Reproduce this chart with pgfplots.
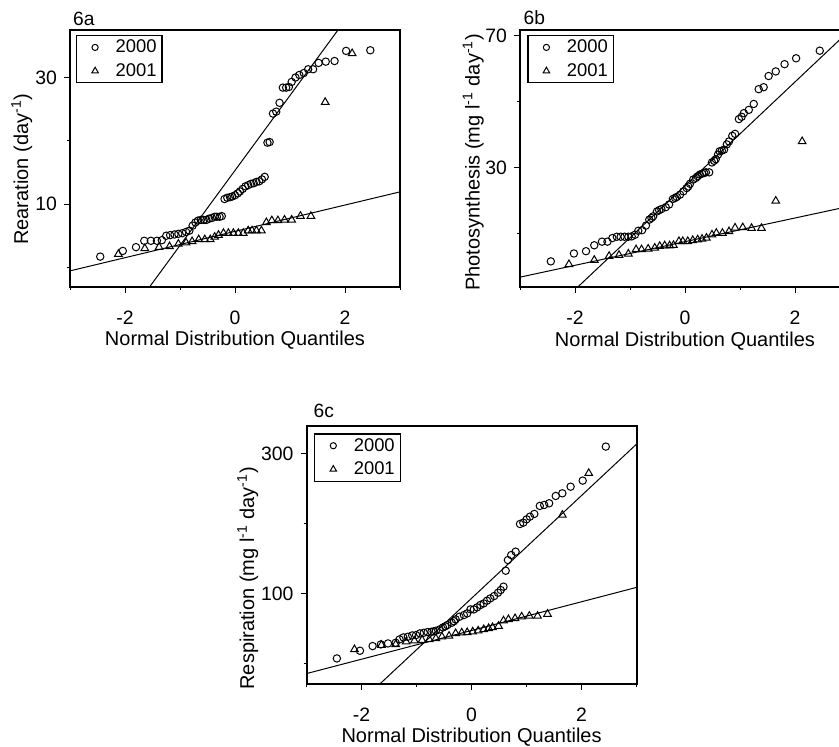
\documentclass[border=0pt]{standalone}
\usepackage{fontspec}
\setmainfont{Liberation Sans}
\usepackage{pgfplots}
\pgfplotsset{compat=1.18}

% shared look of the three Q-Q panels
\pgfplotsset{
  qq/.style={
    scale only axis, width=165pt, height=128.5pt,
    anchor=north west,
    xmin=-3, xmax=3,
    xtick={-2,0,2}, minor xtick={-3,-1,1,3},
    xtick pos=left, ytick pos=left, tick align=outside,
    major tick length=3pt, minor tick length=1.5pt,
    tick style={black, line width=0.5pt},
    minor tick style={black, line width=0.5pt},
    axis line style={line width=0.9pt},
    /pgf/number format/assume math mode=true,
    tick label style={font=\fontsize{9.7}{11}\selectfont},
    xticklabel style={yshift=-5.3pt},
    label style={font=\fontsize{10}{12}\selectfont},
    xlabel={Normal Distribution Quantiles},
    xlabel style={at={(axis description cs:0.5,0)}, anchor=base, yshift=-29pt},
    title style={font=\fontsize{9.6}{11}\selectfont, inner sep=0pt,
      at={(axis description cs:0,1)}, anchor=base west},
    legend style={at={(axis description cs:0,1)}, anchor=north west,
      draw=black, line width=0.6pt, inner xsep=0.7pt, inner ysep=0pt,
      font=\fontsize{9.2}{11}\selectfont, cells={anchor=west},
      nodes={inner xsep=2pt, inner ysep=2pt, text height=6.6pt, text depth=1.2pt}},
  },
  mkc/.style={only marks, mark=o, mark size=1.85pt, black, line width=0.5pt,
    legend image code/.code={\path (0pt,0pt) (16.3pt,0pt);
      \draw[##1,mark size=1.55pt] plot coordinates {(8.3pt,0pt)};}},
  mkt/.style={only marks, mark=triangle, mark size=2.2pt, black, line width=0.5pt,
    legend image code/.code={\path (0pt,0pt) (16.3pt,0pt);
      \draw[##1,mark size=1.9pt] plot coordinates {(8.3pt,0pt)};}},
  fit/.style={black, line width=0.5pt, forget plot},
}

\begin{document}
\begin{tikzpicture}
\path[use as bounding box, clip] (0pt,0pt) rectangle (419.5pt,-373pt);

% ---- 6a
\begin{axis}[qq, at={(35pt,-15pt)},
  ymin=-3.1, ymax=37.5, ytick={10,30}, minor ytick={0,20},
  ylabel={Rearation (day\textsuperscript{-1})},
  ylabel style={at={(axis description cs:-0.146,0.459)}, anchor=center},
  title={6a}, title style={xshift=1.4pt, yshift=-3.5pt},
  legend style={xshift=3pt, yshift=-2.5pt}]
\addplot[mkc] coordinates {
 (-2.45,1.7) (-2.04,2.6) (-1.80,3.2) (-1.65,4.2) (-1.53,4.2) (-1.42,4.2)
 (-1.33,4.3) (-1.25,5.0) (-1.18,5.1) (-1.10,5.2) (-1.03,5.3) (-0.96,5.4)
 (-0.89,5.6) (-0.83,5.8) (-0.77,6.6) (-0.72,7.1) (-0.67,7.4) (-0.62,7.5)
 (-0.57,7.5) (-0.52,7.5) (-0.47,7.7) (-0.42,7.8) (-0.37,8.0) (-0.33,8.0)
 (-0.28,8.0) (-0.24,8.1) (-0.19,10.8) (-0.14,11.0) (-0.09,11.1) (-0.05,11.2)
 (0.00,11.4) (0.05,11.7) (0.09,12.0) (0.14,12.4) (0.19,12.8) (0.24,13.0)
 (0.29,13.2) (0.34,13.3) (0.39,13.5) (0.44,13.6) (0.49,13.9) (0.54,14.3)
 (0.59,19.7) (0.63,19.8) (0.69,24.3) (0.75,24.6) (0.81,26.0) (0.87,28.4)
 (0.93,28.4) (0.98,28.5) (1.03,29.3) (1.10,30.0) (1.17,30.4) (1.25,30.7)
 (1.33,31.3) (1.42,31.3) (1.52,32.3) (1.65,32.5) (1.81,32.6) (2.02,34.2)
 (2.46,34.3)
};
\addlegendentry{2000}
\addplot[mkt] coordinates {
 (-2.12,2.1) (-1.64,3.0) (-1.38,3.2) (-1.19,3.3) (-1.03,3.7) (-0.89,3.9)
 (-0.78,4.1) (-0.66,4.4) (-0.55,4.4) (-0.45,4.4) (-0.37,4.8) (-0.30,5.1)
 (-0.21,5.4) (-0.12,5.4) (-0.03,5.4) (0.06,5.4) (0.15,5.4) (0.24,5.8)
 (0.31,5.8) (0.39,5.8) (0.48,5.8) (0.57,7.1) (0.67,7.4) (0.78,7.4)
 (0.90,7.5) (1.03,7.5) (1.19,8.1) (1.38,8.1) (1.64,26.1) (2.13,33.8)
};
\addlegendentry{2001}
\addplot[fit] coordinates {(-1.55,-3.05) (1.87,37.47)};
\addplot[fit] coordinates {(-3,-0.55) (3,11.93)};
\end{axis}

% ---- 6b
\begin{axis}[qq, at={(260pt,-15pt)},
  ymin=-6.4, ymax=71.8, ytick={30,70}, minor ytick={10,50},
  axis line style={line width=1.1pt},
  ylabel={Photosynthesis (mg l\textsuperscript{-1} day\textsuperscript{-1})},
  ylabel style={at={(axis description cs:-0.1415,0.485)}, anchor=center},
  title={6b}, title style={xshift=1.65pt, yshift=-3pt},
  xlabel style={yshift=-0.8pt},
  legend style={xshift=3.65pt, yshift=-2.5pt}]
\addplot[mkc] coordinates {
 (-2.44,1.4) (-2.02,3.8) (-1.80,4.5) (-1.65,6.3) (-1.51,7.4) (-1.41,7.4)
 (-1.32,8.5) (-1.24,8.9) (-1.17,8.9) (-1.10,8.9) (-1.03,8.9) (-0.97,9.0)
 (-0.91,9.5) (-0.85,10.7) (-0.78,10.9) (-0.71,12.3) (-0.65,14.1) (-0.61,14.6)
 (-0.58,15.1) (-0.51,16.6) (-0.47,17.0) (-0.43,17.3) (-0.35,17.9) (-0.29,18.7)
 (-0.22,20.4) (-0.18,20.7) (-0.15,21.0) (-0.09,21.7) (-0.03,22.7) (0.03,23.7)
 (0.06,24.2) (0.09,25.0) (0.15,26.3) (0.20,26.8) (0.23,27.3) (0.27,27.8)
 (0.31,28.1) (0.35,28.3) (0.38,28.5) (0.44,28.5) (0.49,31.5) (0.53,32.0)
 (0.56,32.5) (0.60,33.9) (0.63,34.9) (0.67,35.1) (0.71,35.4) (0.76,37.0)
 (0.80,37.9) (0.86,39.6) (0.91,40.2) (0.98,44.7) (1.03,45.4) (1.07,46.5)
 (1.16,47.5) (1.25,49.3) (1.34,53.8) (1.43,54.4) (1.52,57.8) (1.65,59.2)
 (1.81,61.4) (2.02,63.2) (2.45,65.5)
};
\addlegendentry{2000}
\addplot[mkt] coordinates {
 (-2.11,0.5) (-1.65,1.8) (-1.38,3.0) (-1.20,3.3) (-1.03,3.7) (-0.89,5.0)
 (-0.79,5.0) (-0.67,5.2) (-0.55,5.5) (-0.46,6.0) (-0.37,6.2) (-0.28,6.2)
 (-0.21,6.3) (-0.11,7.5) (-0.04,7.5) (0.05,7.5) (0.14,7.8) (0.23,8.0)
 (0.31,8.2) (0.39,8.5) (0.49,9.5) (0.57,10.0) (0.68,10.0) (0.80,10.5)
 (0.91,11.6) (1.05,11.7) (1.21,11.5) (1.39,11.5) (1.65,19.8) (2.13,37.9)
};
\addlegendentry{2001}
\addplot[fit] coordinates {(-3,-23.0) (3,71.8)};
\addplot[fit] coordinates {(-3,-3.4) (3,18.2)};
\end{axis}

% ---- 6c
\begin{axis}[qq, at={(153.3pt,-213pt)}, height=129pt,
  ymin=-30, ymax=340, ytick={100,300}, minor ytick={0,200},
  ylabel={Respiration (mg l\textsuperscript{-1} day\textsuperscript{-1})},
  ylabel style={at={(axis description cs:-0.178,0.41)}, anchor=center},
  title={6c}, title style={xshift=3.3pt, yshift=-1.8pt},
  legend style={xshift=3.8pt, yshift=-3.65pt}]
\addplot[mkc] coordinates {
 (-2.45,6.7) (-2.03,17.7) (-1.80,24.4) (-1.65,26.8) (-1.52,28.2) (-1.38,29.2)
 (-1.31,34.0) (-1.24,36.8) (-1.16,37.8) (-1.08,39.7) (-1.01,40.2) (-0.94,42.6)
 (-0.87,43.5) (-0.80,44.5) (-0.73,45.0) (-0.69,45.5) (-0.65,46.4) (-0.58,48.3)
 (-0.52,51.2) (-0.48,52.8) (-0.44,54.5) (-0.36,57.9) (-0.32,60.0) (-0.29,62.7)
 (-0.22,66.5) (-0.14,68.9) (-0.08,71.3) (-0.02,77.0) (0.04,77.0) (0.10,79.9)
 (0.16,83.3) (0.22,85.6) (0.28,89.5) (0.34,92.8) (0.41,96.2) (0.48,100.9)
 (0.53,104.8) (0.58,109.6) (0.62,132.5) (0.66,147.8) (0.72,155.0) (0.80,159.8)
 (0.88,199.5) (0.94,201.4) (1.00,206.2) (1.06,210.0) (1.14,213.9) (1.24,225.4)
 (1.32,226.8) (1.41,229.2) (1.53,239.7) (1.65,243.5) (1.80,253.0) (2.02,261.7)
 (2.44,310.5)
};
\addlegendentry{2000}
\addplot[mkt] coordinates {
 (-2.13,19.6) (-1.64,25.8) (-1.38,26.8) (-1.19,30.6) (-1.04,32.1) (-0.90,33.0)
 (-0.77,34.0) (-0.65,35.4) (-0.54,37.8) (-0.41,38.8) (-0.29,42.6) (-0.18,43.5)
 (-0.08,44.0) (0.02,45.0) (0.12,46.4) (0.22,48.3) (0.31,49.8) (0.38,51.2)
 (0.49,53.1) (0.58,60.8) (0.67,62.7) (0.79,64.1) (0.91,66.5) (1.05,67.5)
 (1.20,67.5) (1.38,70.3) (1.65,212.4) (2.13,272.3)
};
\addlegendentry{2001}
\addplot[fit] coordinates {(-3,-128.1) (3,314.1)};
\addplot[fit] coordinates {(-3,-15.0) (3,108.6)};
\end{axis}
\end{tikzpicture}
\end{document}
